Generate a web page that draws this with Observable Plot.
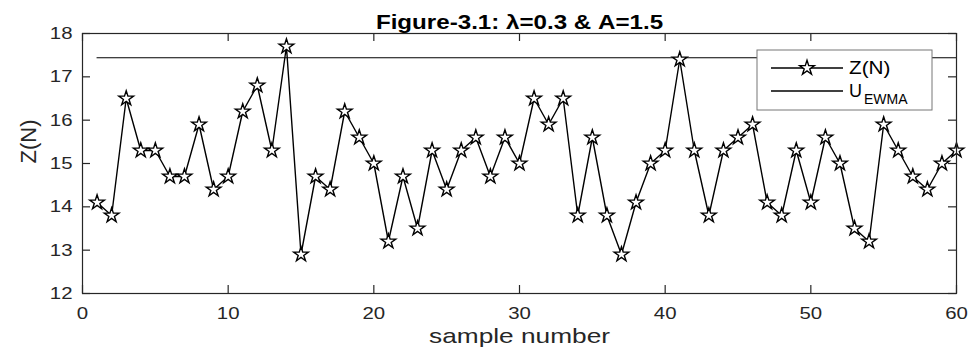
<!DOCTYPE html>
<html>
<head>
<meta charset="utf-8">
<script src="https://cdn.jsdelivr.net/npm/d3@7"></script>
<script src="https://cdn.jsdelivr.net/npm/@observablehq/plot@0.6"></script>
<style>
  html, body { margin: 0; padding: 0; background: #fff; }
  svg { display: block; }
</style>
</head>
<body>
<div id="chart"></div>
<script>
// ---- data ----
const sampleNumbers = d3.range(1, 61);
const zValues = [
  14.1, 13.8, 16.5, 15.3, 15.3, 14.7, 14.7, 15.9, 14.4, 14.7,
  16.2, 16.8, 15.3, 17.7, 12.9, 14.7, 14.4, 16.2, 15.6, 15.0,
  13.2, 14.7, 13.5, 15.3, 14.4, 15.3, 15.6, 14.7, 15.6, 15.0,
  16.5, 15.9, 16.5, 13.8, 15.6, 13.8, 12.9, 14.1, 15.0, 15.3,
  17.4, 15.3, 13.8, 15.3, 15.6, 15.9, 14.1, 13.8, 15.3, 14.1,
  15.6, 15.0, 13.5, 13.2, 15.9, 15.3, 14.7, 14.4, 15.0, 15.3
];
const uclValue = 17.44;
const uclRange = [1, 60];
const xTicks = [0, 10, 20, 30, 40, 50, 60];
const yTicks = [12, 13, 14, 15, 16, 17, 18];
const titleText = "Figure-3.1: \u03bb=0.3 & A=1.5";
const xLabel = "sample number";
const yLabel = "Z(N)";
const legendLabels = ["Z(N)", "U", "EWMA"];

const data = sampleNumbers.map((n, i) => ({n, z: zValues[i]}));

// ---- layout ----
const W = 969, H = 356;
const mL = 82, mR = 13, mT = 33, mB = 63;
const innerW = W - mL - mR, innerH = H - mT - mB;
const tickLen = 8;
const axisColor = "#262626";
const font = "'Liberation Sans', Arial, Helvetica, sans-serif";
const starR = 4.6;

const chart = Plot.plot({
  width: W,
  height: H,
  marginLeft: mL,
  marginRight: mR,
  marginTop: mT,
  marginBottom: mB,
  style: {fontFamily: font, background: "white", color: axisColor},
  x: {domain: [0, 60]},
  y: {domain: [12, 18]},
  marks: [
    Plot.axisX(xTicks, {tickSize: 0, tickPadding: 13, fontSize: 17, label: null, fill: axisColor}),
    Plot.axisY(yTicks, {tickSize: 0, tickPadding: 10, fontSize: 17, label: null, fill: axisColor}),
    // inward ticks on all four sides
    Plot.tickX(xTicks, {x: d => d, insetTop: innerH - tickLen, stroke: axisColor, strokeWidth: 1.2}),
    Plot.tickX(xTicks, {x: d => d, insetBottom: innerH - tickLen, stroke: axisColor, strokeWidth: 1.2}),
    Plot.tickY(yTicks, {y: d => d, insetRight: innerW - tickLen, stroke: axisColor, strokeWidth: 1.2}),
    Plot.tickY(yTicks, {y: d => d, insetLeft: innerW - tickLen, stroke: axisColor, strokeWidth: 1.2}),
    // UCL line
    Plot.ruleY([uclValue], {x1: uclRange[0], x2: uclRange[1], stroke: "black", strokeWidth: 1.2}),
    // series
    Plot.line(data, {x: "n", y: "z", stroke: "black", strokeWidth: 1.4}),
    Plot.dot(data, {x: "n", y: "z", symbol: "star", r: starR, fill: "white", stroke: "black", strokeWidth: 1.4}),
    Plot.frame({stroke: axisColor, strokeWidth: 1.2}),
    // title and axis labels
    Plot.text([titleText], {frameAnchor: "top", dy: -19, fontWeight: "bold", fontSize: 21, fill: "black", className: "stretch-title"}),
    Plot.text([xLabel], {frameAnchor: "bottom", dy: 49, fontSize: 21, fill: axisColor, className: "stretch-xlabel"}),
    Plot.text([yLabel], {frameAnchor: "left", dx: -54, rotate: -90, fontSize: 22, fill: axisColor})
  ]
});

document.getElementById("chart").appendChild(chart);

// ---- legend (drawn into the SVG) ----
const svg = d3.select(chart);
const lg = svg.append("g").attr("font-family", font).attr("text-anchor", "start");
const lx = 757, ly = 50, lw = 175, lh = 60;
lg.append("rect").attr("x", lx).attr("y", ly).attr("width", lw).attr("height", lh)
  .attr("fill", "white").attr("stroke", "#777").attr("stroke-width", 1);
const row1 = ly + 18, row2 = ly + 41;
lg.append("line").attr("x1", lx + 14).attr("x2", lx + 86).attr("y1", row1).attr("y2", row1)
  .attr("stroke", "black").attr("stroke-width", 1.3);
lg.append("path").attr("d", d3.symbol(d3.symbolStar, starR * starR * Math.PI)())
  .attr("transform", `translate(${lx + 50},${row1})`)
  .attr("fill", "white").attr("stroke", "black").attr("stroke-width", 1.4);
lg.append("line").attr("x1", lx + 14).attr("x2", lx + 86).attr("y1", row2).attr("y2", row2)
  .attr("stroke", "black").attr("stroke-width", 1.3);
lg.append("text").attr("class", "stretch-legend").attr("x", lx + 92).attr("y", row1).attr("dy", "0.36em")
  .attr("font-size", 18).attr("fill", "black").text(legendLabels[0]);
const t2 = lg.append("text").attr("x", lx + 92).attr("y", row2).attr("dy", "0.36em")
  .attr("font-size", 18).attr("fill", "black");
t2.append("tspan").text(legendLabels[1]);
t2.append("tspan").attr("font-size", 14).attr("dy", "0.5em").attr("dx", 2).text(legendLabels[2]);

// ---- horizontal stretch of horizontal texts to match the reference's aspect ----
function stretch(el, k) {
  const len = el.getComputedTextLength();
  if (len > 0) {
    el.setAttribute("textLength", (len * k).toFixed(1));
    el.setAttribute("lengthAdjust", "spacingAndGlyphs");
  }
}
svg.selectAll("g[aria-label='x-axis tick label'] text, g[aria-label='y-axis tick label'] text")
  .each(function() { stretch(this, 1.2); });
svg.selectAll(".stretch-title text").each(function() { stretch(this, 1.15); });
svg.selectAll(".stretch-xlabel text").each(function() { stretch(this, 1.25); });
svg.selectAll(".stretch-legend").each(function() { stretch(this, 1.15); });
</script>
</body>
</html>
